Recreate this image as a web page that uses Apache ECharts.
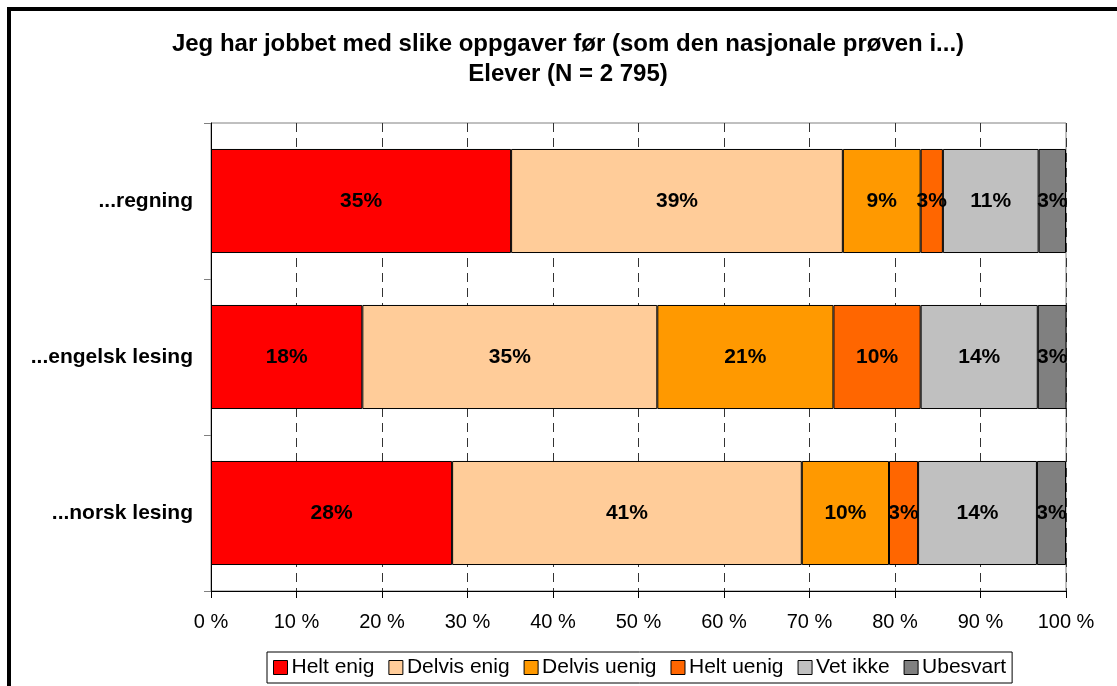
<!DOCTYPE html>
<html>
<head>
<meta charset="utf-8">
<script src="https://cdn.jsdelivr.net/npm/echarts@6/dist/echarts.min.js"></script>
<style>
  html, body { margin: 0; padding: 0; background: #fff; }
  #chart { width: 1117px; height: 686px; }
</style>
</head>
<body>
<div id="chart"></div>
<script>
// categories, top to bottom
const categories = ['...regning', '...engelsk lesing', '...norsk lesing'];

// answer shares (%) per category
const heltEnig    = [35.1, 17.7, 28.2];
const delvisEnig  = [38.8, 34.5, 40.9];
const delvisUenig = [9.1, 20.6, 10.2];
const heltUenig   = [2.6, 10.2, 3.4];
const vetIkke     = [11.2, 13.7, 13.9];
const ubesvart    = [3.2, 3.4, 3.4];

const seriesNames = ['Helt enig', 'Delvis enig', 'Delvis uenig', 'Helt uenig', 'Vet ikke', 'Ubesvart'];
const seriesData = [heltEnig, delvisEnig, delvisUenig, heltUenig, vetIkke, ubesvart];
const colors = ['#FF0000', '#FFCC99', '#FF9900', '#FF6600', '#C0C0C0', '#808080'];

const xTicks = [0, 10, 20, 30, 40, 50, 60, 70, 80, 90, 100];

const font = 'Arial, "Liberation Sans", sans-serif';

const chart = echarts.init(document.getElementById('chart'));

chart.setOption({
  animation: false,
  backgroundColor: '#fff',
  color: colors,
  textStyle: { fontFamily: font },
  graphic: [{
    type: 'rect',
    shape: { x: 9, y: 9, width: 1300, height: 900 },
    style: { fill: 'none', stroke: '#000', lineWidth: 4 },
    silent: true,
    z: -10
  }],
  title: {
    text: 'Jeg har jobbet med slike oppgaver før (som den nasjonale prøven i...)\nElever (N = 2 795)',
    left: 568,
    top: 29,
    textAlign: 'center',
    padding: 0,
    textStyle: {
      fontFamily: font,
      fontSize: 24,
      fontWeight: 'bold',
      color: '#000',
      lineHeight: 30,
      align: 'center'
    }
  },
  legend: {
    data: seriesNames,
    left: 267,
    top: 652,
    orient: 'horizontal',
    padding: [5, 6],
    itemWidth: 14,
    itemHeight: 14,
    itemGap: 14,
    borderColor: '#000',
    borderWidth: 1,
    icon: 'rect',
    itemStyle: { borderColor: '#000', borderWidth: 1 },
    textStyle: { fontFamily: font, fontSize: 21, color: '#000', padding: [0, 0, 0, -1] },
    selectedMode: false
  },
  grid: {
    left: 211,
    right: 51,
    top: 123,
    bottom: 95,
    show: true,
    borderColor: '#808080',
    borderWidth: 1,
    containLabel: false
  },
  xAxis: {
    type: 'value',
    min: 0,
    max: 100,
    interval: 10,
    axisLine: { show: true, lineStyle: { color: '#000', width: 1 } },
    axisTick: { show: true, length: 7, lineStyle: { color: '#000' } },
    axisLabel: {
      margin: 21,
      fontFamily: font,
      fontSize: 20,
      color: '#000',
      formatter: v => xTicks.includes(v) ? v + ' %' : ''
    },
    splitLine: { show: true, lineStyle: { color: '#333', type: [9, 6], width: 1 } }
  },
  yAxis: {
    type: 'category',
    data: categories,
    inverse: true,
    axisLine: { show: true, lineStyle: { color: '#000', width: 1 } },
    axisTick: { show: true, length: 7, lineStyle: { color: '#808080' } },
    axisLabel: {
      margin: 18,
      fontFamily: font,
      fontSize: 21,
      fontWeight: 'bold',
      color: '#000'
    },
    splitLine: { show: false }
  },
  series: seriesNames.map((name, i) => ({
    name: name,
    type: 'bar',
    stack: 'total',
    data: seriesData[i],
    barCategoryGap: '33.3%',
    itemStyle: { borderColor: '#000', borderWidth: 1 },
    label: {
      show: true,
      position: 'inside',
      fontFamily: font,
      fontSize: 21,
      fontWeight: 'bold',
      color: '#000',
      textBorderWidth: 0,
      formatter: p => Math.round(p.value) + '%'
    }
  }))
});
</script>
</body>
</html>
